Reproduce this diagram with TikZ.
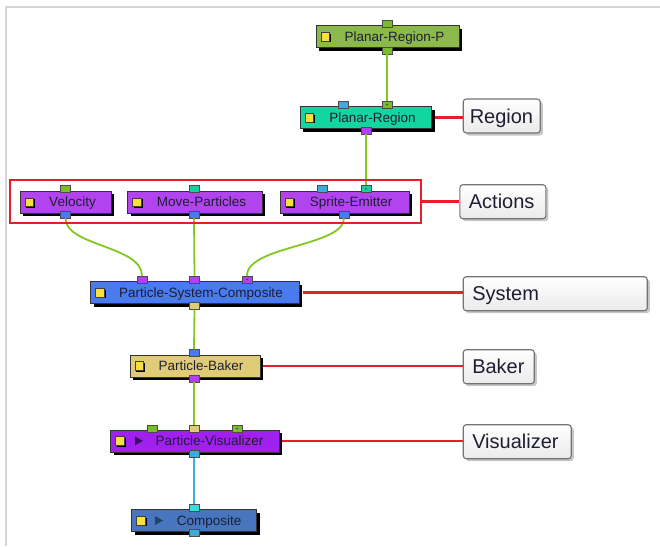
\documentclass[tikz,border=0pt]{standalone}
\usepackage{fontspec}
\setmainfont{Liberation Sans}
\usetikzlibrary{shadows,calc}
\definecolor{cPRP}{RGB}{140,186,74}
\definecolor{cPR}{RGB}{18,214,160}
\definecolor{cAct}{RGB}{178,68,240}
\definecolor{cPSC}{RGB}{72,122,240}
\definecolor{cBak}{RGB}{224,204,118}
\definecolor{cVis}{RGB}{160,32,240}
\definecolor{cComp}{RGB}{72,118,190}
\definecolor{pGreen}{RGB}{120,190,40}
\definecolor{pTeal}{RGB}{20,210,160}
\definecolor{pBlue}{RGB}{72,122,240}
\definecolor{pLBlue}{RGB}{60,170,220}
\definecolor{pPurple}{RGB}{176,64,240}
\definecolor{pTan}{RGB}{224,204,118}
\definecolor{pCyan}{RGB}{60,220,220}
\definecolor{wire}{RGB}{130,200,30}
\definecolor{wireB}{RGB}{60,175,225}
\definecolor{redl}{RGB}{230,30,40}
\definecolor{cYel}{RGB}{248,224,60}
\definecolor{txt}{RGB}{30,30,50}
\definecolor{frame}{RGB}{214,214,214}
\tikzset{
  nodebox/.style={draw=black!80, line width=0.7pt, minimum height=22pt, inner sep=0pt,
    font=\fontsize{13.5}{15}\selectfont, text=txt, text height=9.6pt, text depth=0pt,
    drop shadow={shadow xshift=3pt, shadow yshift=-3pt, fill=black, opacity=1}},
  ysq/.style={draw=black!75, line width=0.5pt, fill=cYel, minimum size=8.5pt, inner sep=0pt,
    drop shadow={shadow xshift=1.5pt, shadow yshift=-1.5pt, fill=black, opacity=1}},
  port/.style={draw=black!70, line width=0.5pt, minimum width=10pt, minimum height=7pt, inner sep=0pt},
  pdot/.style={circle, fill=black!75, minimum size=1.8pt, inner sep=0pt},
  wireline/.style={draw=wire, line width=1.8pt},
  redline/.style={draw=redl, line width=2.8pt},
  lab/.style={draw=black!55, line width=1.1pt, rounded corners=3pt, anchor=west,
    top color=white, bottom color=black!8, minimum height=34pt, inner xsep=9pt,
    align=left, text=txt, font=\fontsize{20}{24}\selectfont, text height=14.3pt, text depth=0pt,
    drop shadow={shadow xshift=2.5pt, shadow yshift=-2.5pt, fill=black, opacity=0.22}},
}
\newcommand\mkbox[7]{%
  \node[nodebox, fill=#5, minimum width=#4pt] (#1) at (#2,#3) {\hspace*{#6pt}#7};
  \node[ysq] (#1-sq) at ([xshift=9.5pt]#1.west) {};
}
\begin{document}
\begin{tikzpicture}[x=1pt,y=-1pt]
\useasboundingbox (0,0) rectangle (660,546);
\draw[frame, line width=2pt] (6,546) -- (6,7) -- (660,7);

% boxes
\mkbox{prp}{387.5}{36.7}{143}{cPRP}{14}{Planar-Region-P}
\mkbox{pr}{365.9}{117.5}{131.7}{cPR}{13}{Planar-Region}
\mkbox{vel}{65.5}{202}{91}{cAct}{14}{Velocity}
\mkbox{mp}{195}{202}{134.6}{cAct}{13}{Move-Particles}
\mkbox{se}{344.7}{202}{129.3}{cAct}{13}{Sprite-Emitter}
\mkbox{psc}{195}{292.5}{208.6}{cPSC}{12}{Particle-System-Composite}
\mkbox{bk}{195}{365.9}{130}{cBak}{12}{Particle-Baker}
\mkbox{vis}{194.9}{440.9}{168.3}{cVis}{29}{Particle-Visualizer}
\mkbox{comp}{194.2}{520.5}{125}{cComp}{30}{Composite}
\fill[black!60!cVis] (135,436.5) -- (143,440.9) -- (135,445.3) -- cycle;
\fill[black!45!cComp] (155,516) -- (163,520.5) -- (155,525) -- cycle;

% ports
\node[port, fill=pGreen] (prp-in) at (387,23.5) {};
\node[port, fill=pGreen] (prp-out) at (387,50.5) {};
\node[port, fill=pLBlue] (pr-in1) at (343.5,104.5) {};
\node[port, fill=pGreen] (pr-in2) at (387,104.5) {};
\node[port, fill=pPurple] (pr-out) at (366,130.5) {};
\node[port, fill=pGreen] (vel-in) at (65.5,189) {};
\node[port, fill=pBlue] (vel-out) at (65.5,214.5) {};
\node[port, fill=pTeal] (mp-in) at (194,189) {};
\node[port, fill=pBlue] (mp-out) at (194,214.5) {};
\node[port, fill=pLBlue] (se-in1) at (322,189) {};
\node[port, fill=pTeal] (se-in2) at (366,189) {};
\node[port, fill=pBlue] (se-out) at (344,214.5) {};
\node[port, fill=pPurple] (psc-in1) at (142,279.5) {};
\node[port, fill=pPurple] (psc-in2) at (194.5,279.5) {};
\node[port, fill=pPurple] (psc-in3) at (247,279.5) {};
\node[port, fill=pTan] (psc-out) at (194.5,306) {};
\node[port, fill=pBlue] (bk-in) at (194,353) {};
\node[port, fill=pPurple] (bk-out) at (194,378.5) {};
\node[port, fill=pGreen] (vis-in1) at (152,428.5) {};
\node[port, fill=pTan] (vis-in2) at (194,428.5) {};
\node[port, fill=pGreen] (vis-in3) at (237,428.5) {};
\node[port, fill=pLBlue] (vis-out) at (194,454) {};
\node[port, fill=pCyan] (comp-in) at (194,508) {};
\node[port, fill=pLBlue] (comp-out) at (194,532.5) {};
\node[pdot] (pr-in2-d) at (pr-in2) {};
\node[pdot] (se-in2-d) at (se-in2) {};
\node[pdot] (psc-in3-d) at (psc-in3) {};
\node[pdot] (vis-in3-d) at (vis-in3) {};

% wires
\draw[wireline] (vel-out.south) .. controls ($(vel-out.south)+(0,28)$) and ($(psc-in1.north)+(0,-30)$) .. (psc-in1.north);
\draw[wireline] (mp-out.south) -- (psc-in2.north);
\draw[wireline] (se-out.south) .. controls ($(se-out.south)+(0,28)$) and ($(psc-in3.north)+(0,-30)$) .. (psc-in3.north);
\draw[wireline] (psc-out.south) -- (bk-in.north);
\draw[wireline] (bk-out.south) -- (vis-in2.north);
\draw[draw=wireB, line width=1.8pt] (vis-out.south) -- (comp-in.north);
\draw[wireline] (prp-out.south) -- (pr-in2.north);
\draw[wireline] (pr-out.south) -- (se-in2.north);

% actions group
\node[draw=redl, line width=2.8pt, minimum width=411pt, minimum height=43pt, inner sep=0pt] (grp) at (215.5,201.5) {};

% labels
\node[lab, text width=64pt, inner xsep=6.5pt] (lRegion) at (462.7,116) {Region};
\node[lab, text width=68pt] (lActions) at (459.3,201.7) {Actions};
\node[lab, text width=166pt] (lSystem) at (462.7,293.7) {System};
\node[lab, text width=53pt] (lBaker) at (462.7,366.7) {Baker};
\node[lab, text width=90pt] (lVis) at (462.7,441.7) {Visualizer};

\draw[redline] ([xshift=3pt]pr.east) -- (pr.east -| lRegion.west);
\draw[redline] (grp.east) -- (grp.east -| lActions.west);
\draw[redline] ([xshift=3pt]psc.east) -- (psc.east -| lSystem.west);
\draw[redline] ([xshift=3pt]bk.east) -- (bk.east -| lBaker.west);
\draw[redline] ([xshift=3pt]vis.east) -- (vis.east -| lVis.west);
\end{tikzpicture}
\end{document}
